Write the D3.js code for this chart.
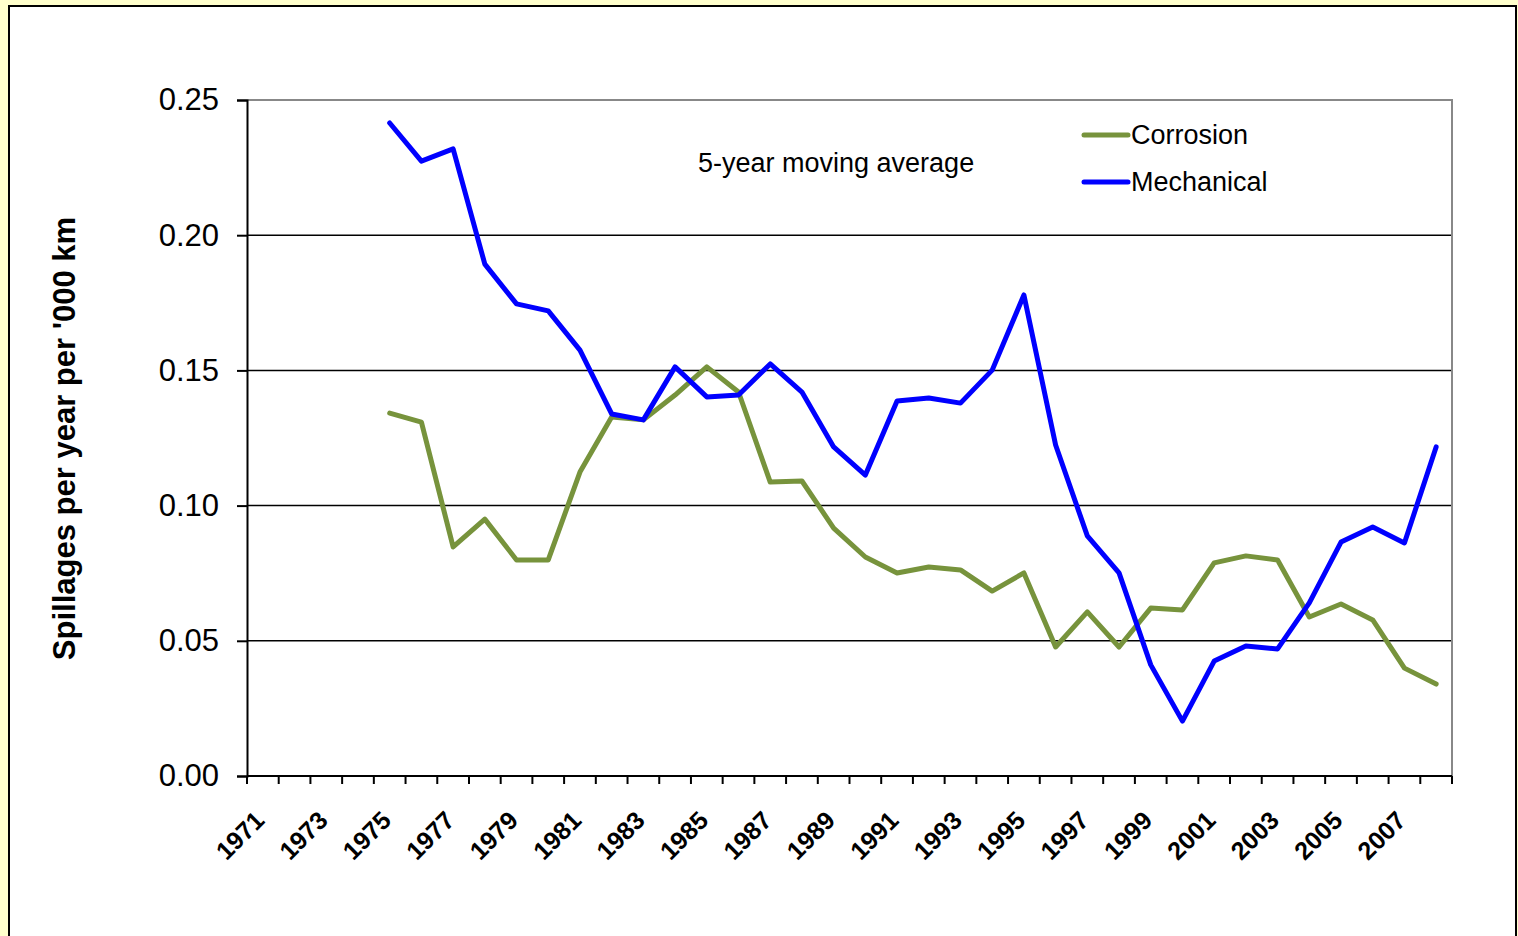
<!DOCTYPE html>
<html>
<head>
<meta charset="utf-8">
<script src="https://cdn.jsdelivr.net/npm/d3@7"></script>
<style>
  html, body { margin: 0; padding: 0; background: #ffffcc; }
  svg { display: block; font-family: "Liberation Sans", Arial, sans-serif; }
</style>
</head>
<body>
<div id="chart"></div>
<script>
// years on the category axis
const years = d3.range(1971, 2009);
const tickYears = years.filter(y => (y - 1971) % 2 === 0);

// 5-year moving average, 1975..2008
const seriesYears = d3.range(1975, 2009);
const corrosion = [
  0.1342, 0.1309, 0.0847, 0.0950, 0.0799, 0.0799, 0.1124, 0.1328, 0.1317, 0.1409,
  0.1513, 0.1420, 0.1087, 0.1091, 0.0917, 0.0810, 0.0751, 0.0773, 0.0762, 0.0684,
  0.0751, 0.0477, 0.0607, 0.0477, 0.0621, 0.0614, 0.0788, 0.0814, 0.0799, 0.0588,
  0.0636, 0.0577, 0.0399, 0.0340
];
const mechanical = [
  0.2415, 0.2274, 0.2319, 0.1893, 0.1746, 0.1720, 0.1575, 0.1339, 0.1317, 0.1513,
  0.1402, 0.1409, 0.1524, 0.1420, 0.1217, 0.1113, 0.1387, 0.1398, 0.1379, 0.1501,
  0.1779, 0.1224, 0.0888, 0.0751, 0.0411, 0.0203, 0.0425, 0.0481, 0.0470, 0.0640,
  0.0865, 0.0921, 0.0862, 0.1217
];
const yTicks = [0, 0.05, 0.10, 0.15, 0.20, 0.25];

const series = [
  { name: "Corrosion", color: "#77933c", values: corrosion },
  { name: "Mechanical", color: "#0000ff", values: mechanical }
];

const width = 1518, height = 936;
const svg = d3.select("#chart").append("svg")
  .attr("width", width)
  .attr("height", height);

// chart frame
svg.append("rect")
  .attr("x", 0).attr("y", 0).attr("width", width).attr("height", height)
  .attr("fill", "#ffffcc");
svg.append("rect")
  .attr("x", 9).attr("y", 6).attr("width", 1507).attr("height", 940)
  .attr("fill", "#fff").attr("stroke", "#000").attr("stroke-width", 2);

const plot = { left: 247, right: 1452, top: 100, bottom: 776 };

const x = d3.scaleBand()
  .domain(years)
  .range([plot.left, plot.right])
  .padding(0);

const y = d3.scaleLinear()
  .domain([0, 0.25])
  .range([plot.bottom, plot.top]);

// gridlines
svg.append("g")
  .selectAll("line")
  .data(yTicks.filter(d => d > 0 && d < 0.25))
  .join("line")
  .attr("x1", plot.left).attr("x2", plot.right)
  .attr("y1", d => y(d)).attr("y2", d => y(d))
  .attr("stroke", "#000").attr("stroke-width", 1.5);

// top and right border of plot area
svg.append("path")
  .attr("d", `M${plot.left},${plot.top}H${plot.right}V${plot.bottom}`)
  .attr("fill", "none").attr("stroke", "#888").attr("stroke-width", 2);

// y axis
const yAxis = svg.append("g")
  .attr("transform", `translate(${plot.left},0)`)
  .call(d3.axisLeft(y).tickValues(yTicks).tickFormat(d3.format(".2f")).tickSize(10).tickPadding(18));
yAxis.select(".domain").attr("stroke", "#000").attr("stroke-width", 2);
yAxis.selectAll(".tick line").attr("stroke", "#000").attr("stroke-width", 2);
yAxis.selectAll(".tick text")
  .attr("font-size", 31)
  .attr("font-family", "Liberation Sans, Arial, sans-serif")
  .attr("fill", "#000");

// x axis: ticks between categories
const xAxisG = svg.append("g");
xAxisG.append("line")
  .attr("x1", plot.left).attr("x2", plot.right)
  .attr("y1", plot.bottom).attr("y2", plot.bottom)
  .attr("stroke", "#000").attr("stroke-width", 2);
const edges = years.map(d => x(d)).concat([x(years[years.length - 1]) + x.bandwidth()]);
xAxisG.selectAll(".xt")
  .data(edges)
  .join("line")
  .attr("class", "xt")
  .attr("x1", d => d).attr("x2", d => d)
  .attr("y1", plot.bottom).attr("y2", plot.bottom + 8)
  .attr("stroke", "#000").attr("stroke-width", 2);
xAxisG.selectAll(".xl")
  .data(tickYears)
  .join("text")
  .attr("class", "xl")
  .attr("transform", d => `translate(${x(d) + x.bandwidth() / 2 + 3},${plot.bottom + 46}) rotate(-45)`)
  .attr("text-anchor", "end")
  .attr("font-size", 25)
  .attr("font-weight", "bold")
  .text(d => d);

// y axis title
svg.append("text")
  .attr("transform", `translate(75,${(215 + 662) / 2}) rotate(-90)`)
  .attr("text-anchor", "middle")
  .attr("font-size", 31)
  .attr("font-weight", "bold")
  .text("Spillages per year per '000 km");

// lines
const line = d3.line()
  .x((d, i) => x(seriesYears[i]) + x.bandwidth() / 2)
  .y(d => y(d));

svg.append("g")
  .selectAll("path")
  .data(series)
  .join("path")
  .attr("d", d => line(d.values))
  .attr("fill", "none")
  .attr("stroke", d => d.color)
  .attr("stroke-width", 5)
  .attr("stroke-linejoin", "round")
  .attr("stroke-linecap", "round");

// annotation
svg.append("text")
  .attr("x", 698).attr("y", 172)
  .attr("font-size", 27)
  .text("5-year moving average");

// legend
const legend = svg.append("g")
  .selectAll("g")
  .data(series)
  .join("g")
  .attr("transform", (d, i) => `translate(1084,${135 + i * 47})`);
legend.append("line")
  .attr("x1", 0).attr("x2", 44)
  .attr("stroke", d => d.color)
  .attr("stroke-width", 5)
  .attr("stroke-linecap", "round");
legend.append("text")
  .attr("x", 47).attr("dy", "0.35em")
  .attr("font-size", 27)
  .text(d => d.name);
</script>
</body>
</html>
